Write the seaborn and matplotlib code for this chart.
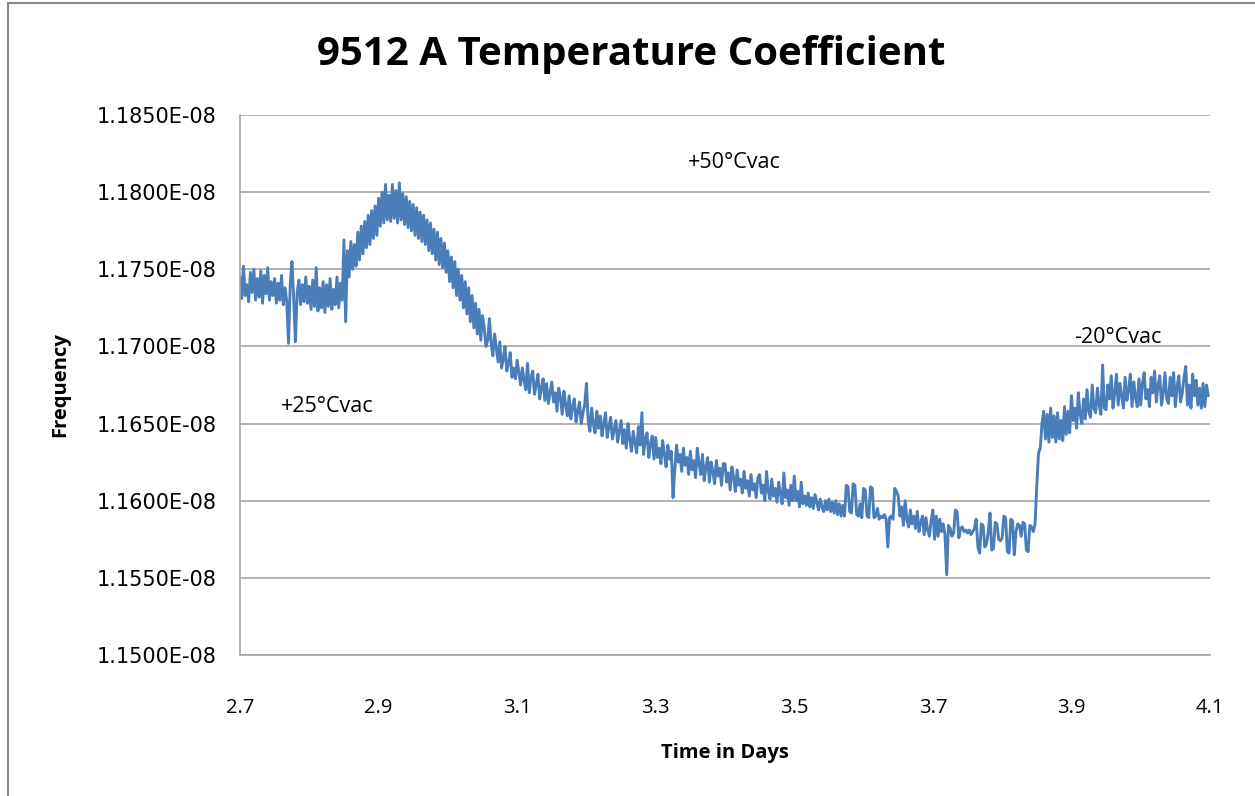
import seaborn as sns
import matplotlib.pyplot as plt
import matplotlib.ticker as mticker
from matplotlib.lines import Line2D
import numpy as np

# Frequency readings in units of 1e-12, one every 0.0025 day from day 2.700
start_day = 2.700
step_day = 0.0025
freq_e12 = [
    # 2.700 - 2.7475
    11745, 11731, 11752, 11733, 11740, 11729, 11748, 11735, 11750, 11730,
    11744, 11732, 11749, 11728, 11746, 11734, 11751, 11730, 11742, 11733,
    # 2.750 - 2.7975
    11744, 11728, 11741, 11730, 11746, 11727, 11738, 11729, 11702, 11740,
    11755, 11731, 11703, 11735, 11743, 11727, 11740, 11729, 11745, 11728,
    # 2.800 - 2.8475
    11739, 11724, 11743, 11726, 11751, 11723, 11738, 11725, 11742, 11722,
    11740, 11726, 11744, 11724, 11737, 11727, 11745, 11725, 11741, 11730,
    # 2.850 - 2.8975
    11769, 11716, 11762, 11745, 11768, 11750, 11766, 11752, 11774, 11756,
    11778, 11760, 11781, 11764, 11785, 11766, 11788, 11770, 11791, 11772,
    # 2.900 - 2.9475
    11796, 11778, 11800, 11780, 11805, 11782, 11798, 11781, 11805, 11783,
    11801, 11780, 11806, 11782, 11799, 11779, 11797, 11777, 11794, 11775,
    # 2.950 - 2.9975
    11792, 11772, 11790, 11770, 11787, 11768, 11785, 11766, 11782, 11762,
    11780, 11760, 11776, 11756, 11774, 11753, 11770, 11751, 11767, 11748,
    # 3.000 - 3.0475
    11762, 11742, 11758, 11738, 11755, 11733, 11750, 11730, 11746, 11725,
    11742, 11721, 11738, 11716, 11733, 11712, 11728, 11708, 11724, 11704,
    # 3.050 - 3.0975
    11720, 11712, 11700, 11704, 11718, 11702, 11694, 11708, 11699, 11690,
    11703, 11686, 11692, 11700, 11684, 11689, 11696, 11680, 11686, 11679,
    # 3.100 - 3.1475
    11691, 11683, 11675, 11686, 11678, 11672, 11689, 11670, 11680, 11684,
    11669, 11675, 11682, 11666, 11673, 11679, 11665, 11676, 11663, 11670,
    # 3.150 - 3.1975
    11677, 11664, 11670, 11658, 11673, 11667, 11656, 11671, 11662, 11655,
    11668, 11653, 11661, 11666, 11651, 11658, 11664, 11650, 11657, 11662,
    # 3.200 - 3.2475
    11676, 11652, 11645, 11660, 11650, 11644, 11658, 11647, 11655, 11642,
    11650, 11657, 11641, 11648, 11654, 11640, 11646, 11652, 11638, 11645,
    # 3.250 - 3.2975
    11652, 11637, 11646, 11634, 11650, 11640, 11632, 11645, 11638, 11631,
    11648, 11636, 11657, 11630, 11640, 11644, 11628, 11637, 11642, 11627,
    # 3.300 - 3.3475
    11641, 11628, 11634, 11624, 11639, 11630, 11622, 11636, 11627, 11632,
    11602, 11620, 11636, 11625, 11630, 11619, 11634, 11623, 11628, 11617,
    # 3.350 - 3.3975
    11632, 11620, 11626, 11615, 11634, 11624, 11617, 11630, 11613, 11622,
    11628, 11612, 11625, 11619, 11611, 11626, 11616, 11621, 11610, 11624,
    # 3.400 - 3.4475
    11624, 11612, 11618, 11607, 11622, 11615, 11606, 11620, 11610, 11614,
    11605, 11619, 11608, 11613, 11603, 11617, 11607, 11611, 11602, 11615,
    # 3.450 - 3.4975
    11617, 11605, 11610, 11600, 11619, 11606, 11601, 11614, 11603, 11608,
    11599, 11612, 11604, 11598, 11618, 11602, 11607, 11597, 11610, 11600,
    # 3.500 - 3.5475
    11616, 11600, 11606, 11596, 11612, 11598, 11603, 11597, 11605, 11596,
    11602, 11595, 11604, 11599, 11594, 11601, 11596, 11593, 11600, 11594,
    # 3.550 - 3.5975
    11601, 11593, 11599, 11592, 11600, 11591, 11598, 11590, 11597, 11590,
    11610, 11609, 11593, 11592, 11611, 11610, 11591, 11590, 11598, 11589,
    # 3.600 - 3.6475
    11608, 11607, 11590, 11589, 11609, 11608, 11589, 11590, 11595, 11588,
    11590, 11589, 11591, 11588, 11570, 11589, 11590, 11588, 11608, 11606,
    # 3.650 - 3.6975
    11603, 11590, 11596, 11584, 11600, 11588, 11583, 11594, 11585, 11590,
    11582, 11593, 11580, 11586, 11590, 11578, 11589, 11581, 11577, 11587,
    # 3.700 - 3.7475
    11594, 11575, 11590, 11577, 11588, 11580, 11585, 11578, 11552, 11584,
    11582, 11577, 11579, 11594, 11593, 11576, 11582, 11583, 11580, 11581,
    # 3.750 - 3.7975
    11579, 11581, 11578, 11580, 11582, 11588, 11570, 11566, 11585, 11584,
    11570, 11572, 11580, 11592, 11568, 11569, 11586, 11585, 11575, 11574,
    # 3.800 - 3.8475
    11576, 11590, 11589, 11567, 11566, 11588, 11587, 11565, 11580, 11585,
    11584, 11577, 11586, 11585, 11568, 11567, 11584, 11583, 11580, 11585,
    # 3.850 - 3.8975
    11610, 11631, 11634, 11650, 11658, 11640, 11656, 11638, 11660, 11641,
    11655, 11638, 11657, 11640, 11652, 11639, 11661, 11643, 11658, 11644,
    # 3.900 - 3.9475
    11668, 11652, 11660, 11647, 11670, 11656, 11650, 11666, 11653, 11672,
    11658, 11654, 11675, 11660, 11657, 11673, 11662, 11656, 11688, 11660,
    # 3.950 - 3.9975
    11659, 11675, 11666, 11681, 11660, 11670, 11682, 11662, 11676, 11668,
    11660, 11680, 11665, 11672, 11682, 11661, 11677, 11667, 11661, 11679,
    # 4.000 - 4.0475
    11662, 11676, 11683, 11666, 11672, 11661, 11680, 11670, 11684, 11664,
    11675, 11681, 11662, 11670, 11683, 11666, 11663, 11680, 11668, 11683,
    # 4.050 - 4.0975
    11661, 11674, 11681, 11664, 11670, 11680, 11687, 11662, 11675, 11660,
    11682, 11668, 11678, 11662, 11673, 11660, 11676, 11661, 11675, 11668,
]

x_ticks = [2.7, 2.9, 3.1, 3.3, 3.5, 3.7, 3.9, 4.1]
y_ticks_e8 = [1.150, 1.155, 1.160, 1.165, 1.170, 1.175, 1.180, 1.185]

# annotations: (label, day, frequency e-8)
notes = [("+50°Cvac", 3.414, 1.1819), ("+25°Cvac", 2.826, 1.1661), ("-20°Cvac", 3.967, 1.1706)]

frequency = np.array(freq_e12) * 1e-12
time_days = start_day + step_day * np.arange(len(freq_e12))

sns.set_style("white")
plt.rcParams["text.color"] = "black"
plt.rcParams["xtick.labelcolor"] = "black"
plt.rcParams["ytick.labelcolor"] = "black"
plt.rcParams["axes.labelcolor"] = "black"
narrow = "Open Sans"

fig = plt.figure(figsize=(12.55, 7.96), dpi=100)
ax = fig.add_axes([240 / 1255, 1 - 655 / 796, 970 / 1255, 540 / 796])

sns.lineplot(x=time_days, y=frequency, ax=ax, color="#4a7ebb", linewidth=2.1)

ax.set_xlim(2.7, 4.1)
ax.set_ylim(1.150e-8, 1.185e-8)
ax.set_xticks(x_ticks)
ax.set_yticks([v * 1e-8 for v in y_ticks_e8])
ax.yaxis.set_major_formatter(mticker.FuncFormatter(lambda v, p: f"{v * 1e8:.4f}E-08"))
ax.xaxis.set_major_formatter(mticker.FuncFormatter(lambda v, p: f"{v:.1f}"))

ax.grid(axis="y", color="#a6a6a6", linewidth=1.2)
ax.set_axisbelow(True)
for side in ["top", "right"]:
    ax.spines[side].set_visible(False)
for side in ["left", "bottom"]:
    ax.spines[side].set_color("#a6a6a6")
    ax.spines[side].set_linewidth(1.2)
ax.tick_params(axis="both", direction="out", length=7, width=1.2, color="#a6a6a6")
ax.tick_params(axis="y", labelsize=15, pad=10)
ax.tick_params(axis="x", pad=24)
for lab in ax.get_yticklabels():
    lab.set_family("DejaVu Sans")
for lab in ax.get_xticklabels():
    lab.set_family(narrow)
    lab.set_fontsize(14.5)

ax.set_xlabel("Time in Days", family=narrow, fontsize=14.5, fontweight="bold", labelpad=18)
ax.set_ylabel("Frequency", family=narrow, fontsize=14.5, fontweight="bold", labelpad=19)
fig.suptitle("9512 A Temperature Coefficient", family=narrow, fontsize=29,
             fontweight="bold", x=631 / 1255, y=1 - 54 / 796, va="center")

for label, xd, ye8 in notes:
    ax.text(xd, ye8 * 1e-8, label, family=narrow, fontsize=15.5, ha="center", va="center")

# chart area border (top and left visible)
fig.add_artist(Line2D([8 / 1255, 1], [1 - 3 / 796, 1 - 3 / 796], color="#888888", linewidth=1.5))
fig.add_artist(Line2D([8 / 1255, 8 / 1255], [0, 1 - 3 / 796], color="#888888", linewidth=1.5))

fig.savefig("out.png", dpi=100)
plt.close(fig)
